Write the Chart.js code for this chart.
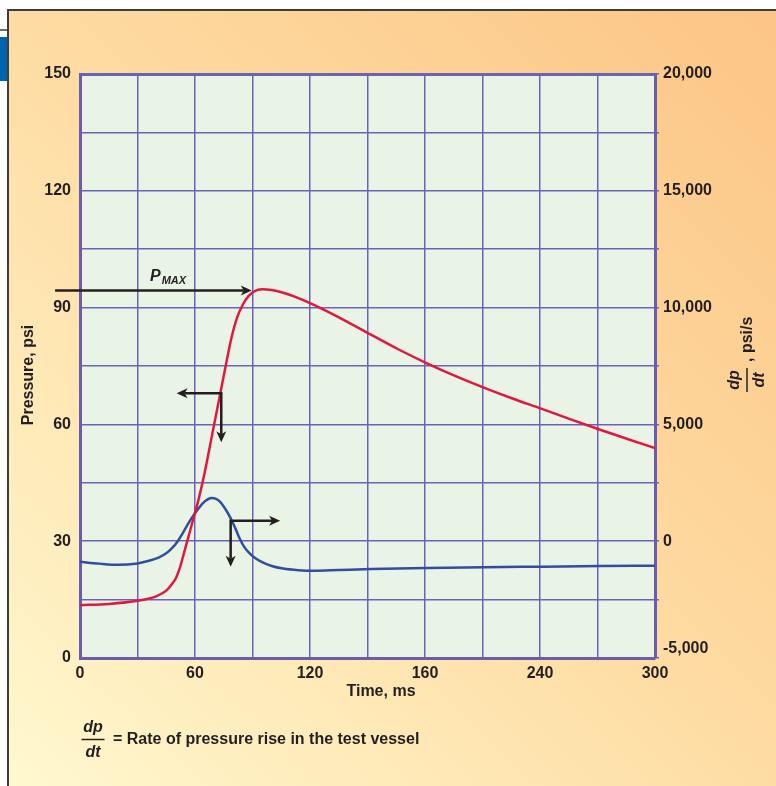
<!DOCTYPE html>
<html>
<head>
<meta charset="utf-8">
<title>Pressure and rate of pressure rise</title>
<script src="https://cdn.jsdelivr.net/npm/chart.js@4.4.1/dist/chart.umd.min.js"></script>
<style>
  html, body { margin: 0; padding: 0; background: #fff; }
  canvas { display: block; }
</style>
</head>
<body>
<canvas id="pressureChart" width="776" height="786"></canvas>
<script>
// Pressure curve (ms, psi)
const pressureTimes = [0, 15, 30, 40, 45, 48, 50, 52, 54, 56.5, 59, 62, 65, 69, 73, 76, 79, 82, 85, 88, 91, 95, 100, 106, 112, 122, 137, 152, 166, 181, 196, 211, 226, 241, 256, 271, 286, 300];
const pressureValues = [13.6, 13.9, 14.7, 15.9, 17.3, 19.0, 20.5, 23.0, 26.5, 31.0, 35.5, 41.0, 47.5, 57.5, 67.5, 75.0, 82.2, 87.5, 90.8, 93.0, 94.2, 94.7, 94.5, 93.8, 92.8, 90.7, 87.0, 83.0, 79.3, 75.7, 72.4, 69.4, 66.6, 64.0, 61.3, 58.7, 56.2, 53.9];

// Rate of pressure rise curve (ms, psi/s)
const rateTimes = [0, 10, 20, 30, 36, 41, 45, 48, 51, 54, 57.4, 60, 62.5, 65.5, 68.5, 71, 73, 75.5, 78.5, 81, 83.5, 85.5, 88, 91, 95, 100, 106, 114, 122, 135, 152, 181, 211, 241, 271, 300];
const rateValues = [-880, -960, -1010, -950, -840, -700, -520, -300, 0, 400, 880, 1200, 1470, 1730, 1850, 1810, 1690, 1420, 1000, 560, 80, -220, -480, -700, -900, -1060, -1170, -1240, -1265, -1235, -1195, -1150, -1115, -1090, -1065, -1050];

// Tick labels (the original figure prints 160 at the 180 ms line)
const xTickValues = [0, 60, 120, 180, 240, 300];
const xTickLabels = ['0', '60', '120', '160', '240', '300'];
const pressureTickValues = [0, 30, 60, 90, 120, 150];
const rateTickValues = [-5000, 0, 5000, 10000, 15000, 20000];

// Annotation anchors, in data units
const pmaxArrow = { fromX: -13, toX: 89.6, y: 94.4 };
const pmaxLabel = { x: 36.5, y: 96.8 };
const pressureArrow = { x: 73.7, y: 68, leftTo: 50.4, downTo: 55.4 };
const rateArrow = { x: 78.6, y: 880, rightTo: 104.4, downTo: -1090 };

const FONT = '"Liberation Sans", Arial, Helvetica, sans-serif';
const INK = '#231f20';
const GRID = '#6a64b6';
const FRAME = '#6a5db0';

const backdrop = {
  id: 'backdrop',
  beforeDraw(chart) {
    const { ctx, width, height, chartArea: a } = chart;
    ctx.save();
    ctx.fillStyle = '#ffffff';
    ctx.fillRect(0, 0, width, height);
    const g = ctx.createLinearGradient(8, height, width, 9);
    g.addColorStop(0, '#fff8cf');
    g.addColorStop(0.5, '#fedca3');
    g.addColorStop(1, '#fcc586');
    ctx.fillStyle = g;
    ctx.fillRect(8, 9, width - 8, height - 9);
    ctx.strokeStyle = '#3d3d3d';
    ctx.lineWidth = 2;
    ctx.beginPath();
    ctx.moveTo(8, height);
    ctx.lineTo(8, 10);
    ctx.lineTo(width, 10);
    ctx.stroke();
    // bits of the page outside the figure
    ctx.fillStyle = '#0063b0';
    ctx.fillRect(0, 37, 7, 44);
    ctx.lineWidth = 1.5;
    ctx.beginPath();
    ctx.moveTo(0, 30);
    ctx.lineTo(8, 30);
    ctx.stroke();
    ctx.fillStyle = '#eaf4e6';
    ctx.fillRect(a.left, a.top, a.right - a.left, a.bottom - a.top);
    ctx.restore();
  }
};

function arrowHead(ctx, x, y, angle) {
  ctx.save();
  ctx.translate(x, y);
  ctx.rotate(angle);
  ctx.beginPath();
  ctx.moveTo(0, 0);
  ctx.lineTo(-11, -5);
  ctx.lineTo(-8, 0);
  ctx.lineTo(-11, 5);
  ctx.closePath();
  ctx.fill();
  ctx.restore();
}

function line(ctx, x1, y1, x2, y2) {
  ctx.beginPath();
  ctx.moveTo(x1, y1);
  ctx.lineTo(x2, y2);
  ctx.stroke();
}

function fraction(ctx, cx, cy, barHalf) {
  ctx.font = 'italic bold 16px ' + FONT;
  ctx.textAlign = 'center';
  ctx.textBaseline = 'middle';
  ctx.fillText('dp', cx, cy - 12);
  ctx.fillText('dt', cx, cy + 13);
  ctx.lineWidth = 1.5;
  line(ctx, cx - barHalf, cy, cx + barHalf, cy);
}

const annotations = {
  id: 'annotations',
  afterDatasetsDraw(chart) {
    const { ctx, scales: { x, y, y1 } } = chart;
    ctx.save();
    ctx.strokeStyle = INK;
    ctx.fillStyle = INK;
    ctx.lineWidth = 2.5;

    // P max
    const py = y.getPixelForValue(pmaxArrow.y);
    const px2 = x.getPixelForValue(pmaxArrow.toX);
    line(ctx, x.getPixelForValue(pmaxArrow.fromX), py, px2 - 8, py);
    arrowHead(ctx, px2, py, 0);

    // pressure curve pointer
    const ax = x.getPixelForValue(pressureArrow.x);
    const ay = y.getPixelForValue(pressureArrow.y);
    const al = x.getPixelForValue(pressureArrow.leftTo);
    const ad = y.getPixelForValue(pressureArrow.downTo);
    ctx.beginPath();
    ctx.moveTo(al + 8, ay);
    ctx.lineTo(ax, ay);
    ctx.lineTo(ax, ad - 8);
    ctx.stroke();
    arrowHead(ctx, al, ay, Math.PI);
    arrowHead(ctx, ax, ad, Math.PI / 2);

    // rate curve pointer
    const bx = x.getPixelForValue(rateArrow.x);
    const by = y1.getPixelForValue(rateArrow.y);
    const br = x.getPixelForValue(rateArrow.rightTo);
    const bd = y1.getPixelForValue(rateArrow.downTo);
    ctx.beginPath();
    ctx.moveTo(br - 8, by);
    ctx.lineTo(bx, by);
    ctx.lineTo(bx, bd - 8);
    ctx.stroke();
    arrowHead(ctx, br, by, 0);
    arrowHead(ctx, bx, bd, Math.PI / 2);

    // P_MAX label
    const lx = x.getPixelForValue(pmaxLabel.x);
    const ly = y.getPixelForValue(pmaxLabel.y);
    ctx.textAlign = 'left';
    ctx.textBaseline = 'alphabetic';
    ctx.font = 'italic bold 16px ' + FONT;
    ctx.fillText('P', lx, ly);
    const pw = ctx.measureText('P').width;
    ctx.font = 'italic bold 11px ' + FONT;
    ctx.fillText('MAX', lx + pw + 1, ly + 3);
    ctx.restore();
  },
  afterDraw(chart) {
    const { ctx } = chart;
    ctx.save();
    ctx.fillStyle = INK;
    ctx.strokeStyle = INK;

    // axis titles
    ctx.font = 'bold 16px ' + FONT;
    ctx.textAlign = 'center';
    ctx.textBaseline = 'middle';
    ctx.fillText('Time, ms', 381, 692);

    ctx.save();
    ctx.translate(29, 375);
    ctx.rotate(-Math.PI / 2);
    ctx.fillText('Pressure, psi', 0, 0);
    ctx.restore();

    ctx.save();
    ctx.translate(748, 392);
    ctx.rotate(-Math.PI / 2);
    fraction(ctx, 12, -1, 12);
    ctx.font = 'bold 16px ' + FONT;
    ctx.textAlign = 'left';
    ctx.fillText(', psi/s', 30, 0);
    ctx.restore();

    // footnote
    fraction(ctx, 93, 739.5, 11.5);
    ctx.font = 'bold 16px ' + FONT;
    ctx.textAlign = 'left';
    ctx.fillText('= Rate of pressure rise in the test vessel', 113, 740);
    ctx.restore();
  }
};

const tickFont = { family: FONT, size: 16, weight: 'bold' };

const ctx = document.getElementById('pressureChart').getContext('2d');
new Chart(ctx, {
  type: 'line',
  data: {
    datasets: [{
      label: 'Pressure',
      data: pressureTimes.map((t, i) => ({ x: t, y: pressureValues[i] })),
      yAxisID: 'y',
      borderColor: '#e3173e',
      borderWidth: 2.5,
      pointRadius: 0,
      cubicInterpolationMode: 'monotone',
      fill: false,
      order: 0
    }, {
      label: 'dp/dt',
      data: rateTimes.map((t, i) => ({ x: t, y: rateValues[i] })),
      yAxisID: 'y1',
      borderColor: '#2f4f9f',
      borderWidth: 2.5,
      pointRadius: 0,
      cubicInterpolationMode: 'monotone',
      fill: false,
      order: 1
    }]
  },
  options: {
    responsive: false,
    animation: false,
    devicePixelRatio: 1,
    layout: { padding: { top: 74, left: 0, right: 0, bottom: 0 } },
    plugins: {
      legend: { display: false },
      tooltip: { enabled: false }
    },
    scales: {
      x: {
        type: 'linear',
        min: 0,
        max: 300,
        afterFit: s => { s.height = 128; },
        ticks: {
          stepSize: 30,
          autoSkip: false,
          maxRotation: 0,
          padding: 6,
          color: INK,
          font: tickFont,
          callback: v => {
            const i = xTickValues.indexOf(v);
            return i >= 0 ? xTickLabels[i] : '';
          }
        },
        grid: { color: GRID, lineWidth: 1.5, drawTicks: false },
        border: { display: true, color: FRAME, width: 3 }
      },
      y: {
        position: 'left',
        min: 0,
        max: 150,
        afterFit: s => { s.width = 80; },
        ticks: {
          stepSize: 15,
          autoSkip: false,
          padding: 9,
          color: INK,
          font: tickFont,
          callback: v => pressureTickValues.includes(v) ? String(v) : ''
        },
        grid: {
          color: GRID,
          lineWidth: c => (c.tick && c.tick.value === 150 ? 3 : 1.5),
          drawTicks: false
        },
        border: { display: true, color: FRAME, width: 3 }
      },
      y1: {
        position: 'right',
        min: -5000,
        max: 20000,
        afterFit: s => { s.width = 121; },
        ticks: {
          stepSize: 2500,
          autoSkip: false,
          padding: 4,
          color: INK,
          font: tickFont,
          callback: v => {
            if (!rateTickValues.includes(v)) return '';
            const s = v.toLocaleString('en-US');
            return v === -5000 ? [s, ''] : s;
          }
        },
        grid: { drawOnChartArea: false, drawTicks: true, tickLength: 4, color: GRID, lineWidth: 1.5 },
        border: { display: true, color: FRAME, width: 3 }
      }
    }
  },
  plugins: [backdrop, annotations]
});
</script>
</body>
</html>
